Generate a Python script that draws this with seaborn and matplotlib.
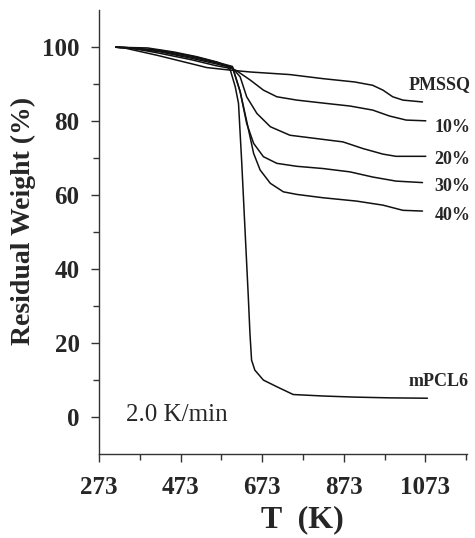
import pandas as pd
import seaborn as sns
import matplotlib.pyplot as plt
from matplotlib.ticker import FixedLocator

# TGA curves (T in K, residual weight in %)
t_pmssq = [314, 335, 416, 497, 537, 595, 644, 741, 822, 900, 944, 969, 993, 1018, 1066]
w_pmssq = [100, 99.8, 97.8, 95.6, 94.5, 93.8, 93.3, 92.6, 91.5, 90.6, 89.7, 88.4, 86.6, 85.7, 85.2]

t_10 = [314, 350, 420, 500, 560, 600, 611, 644, 676, 709, 758, 822, 888, 944, 985, 1026, 1074]
w_10 = [100, 99.8, 98.4, 96.6, 95.0, 94.2, 93.6, 91.1, 88.4, 86.6, 85.7, 84.9, 84.1, 83.0, 81.4, 80.3, 80.1]

t_20 = [314, 345, 420, 500, 560, 600, 619, 635, 660, 693, 741, 806, 871, 920, 969, 1001, 1074]
w_20 = [100, 99.8, 98.8, 97.0, 95.5, 94.4, 92.0, 86.6, 82.1, 78.5, 76.2, 75.3, 74.4, 72.6, 71.1, 70.5, 70.5]

t_30 = [314, 340, 420, 500, 560, 600, 619, 635, 652, 676, 709, 758, 822, 888, 944, 1001, 1066]
w_30 = [100, 99.9, 99.0, 97.3, 95.8, 94.6, 88.0, 79.4, 74.0, 70.4, 68.6, 67.8, 67.2, 66.3, 64.9, 63.8, 63.4]

t_40 = [314, 340, 420, 500, 560, 600, 619, 635, 652, 668, 693, 725, 758, 822, 904, 969, 1018, 1066]
w_40 = [100, 99.9, 99.2, 97.6, 96.0, 94.8, 88.0, 80.0, 71.3, 66.8, 63.2, 60.9, 60.2, 59.3, 58.4, 57.3, 55.9, 55.7]

t_pcl = [314, 392, 457, 514, 562, 583, 595, 607, 615, 623, 631, 639, 643, 647, 655, 676, 709, 749, 822, 900, 985, 1078]
w_pcl = [100, 99.8, 98.7, 97.4, 96.0, 95.1, 93.8, 89.3, 84.8, 68.6, 50.5, 32.5, 22.7, 15.4, 12.7, 10.0, 8.2, 6.1, 5.7, 5.4, 5.2, 5.1]

names = ["PMSSQ", "10%", "20%", "30%", "40%", "mPCL6"]
temps = [t_pmssq, t_10, t_20, t_30, t_40, t_pcl]
weights = [w_pmssq, w_10, w_20, w_30, w_40, w_pcl]

# label positions next to the curve ends
label_x = [1107, 1140, 1140, 1140, 1140, 1105]
label_y = [90.0, 78.4, 69.7, 62.4, 54.6, 9.5]

df = pd.concat([pd.DataFrame({"T": t, "W": w, "sample": n})
                for n, t, w in zip(names, temps, weights)], ignore_index=True)

sns.set_style("ticks")
plt.rcParams['font.family'] = ['Liberation Serif', 'DejaVu Serif']

fig = plt.figure(figsize=(4.75, 5.38), dpi=100)
ax = fig.add_axes([0.2084, 0.156, 0.7747, 0.825])

sns.lineplot(data=df, x="T", y="W", hue="sample", units="sample", estimator=None,
             sort=False, palette=["#111111"] * len(names), linewidth=1.1,
             legend=False, ax=ax)

for n, x, y in zip(names, label_x, label_y):
    ax.text(x, y, n, ha='center', va='center', fontsize=13, fontweight='bold')

ax.text(339, 0.5, "2.0 K/min", ha='left', va='center', fontsize=18)

ax.set_xlim(273, 1175)
ax.set_ylim(-10, 110)
ax.set_xticks([273, 473, 673, 873, 1073])
ax.xaxis.set_minor_locator(FixedLocator([373, 573, 773, 973, 1173]))
ax.set_yticks([0, 20, 40, 60, 80, 100])
ax.yaxis.set_minor_locator(FixedLocator([10, 30, 50, 70, 90]))

ax.tick_params(which='major', direction='out', length=6, width=1, color='#333333',
               labelsize=18)
ax.tick_params(which='minor', direction='out', length=4, width=1, color='#333333')
ax.tick_params(axis='x', pad=10)
ax.tick_params(axis='y', pad=8)
for lab in ax.get_xticklabels() + ax.get_yticklabels():
    lab.set_fontweight('bold')

sns.despine(ax=ax)
for s in ['left', 'bottom']:
    ax.spines[s].set_color('#333333')
    ax.spines[s].set_linewidth(1.0)

ax.set_xlabel("T  (K)", fontsize=23, fontweight='bold')
ax.set_ylabel("Residual Weight (%)", fontsize=20, fontweight='bold')
ax.xaxis.set_label_coords(0.554, -0.115)
ax.yaxis.set_label_coords(-0.17, 0.525)

fig.savefig("out.png", dpi=100)
